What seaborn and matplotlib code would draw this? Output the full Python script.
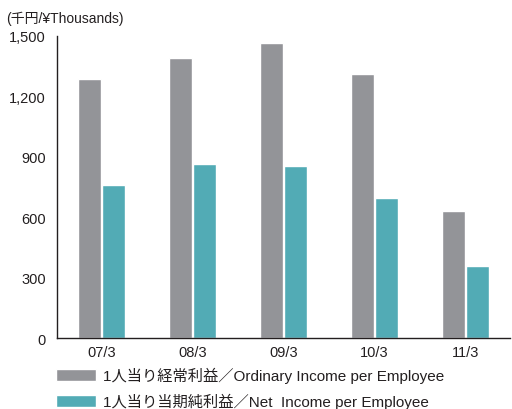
import pandas as pd
import matplotlib.pyplot as plt
import seaborn as sns

periods = ["07/3", "08/3", "09/3", "10/3", "11/3"]
ordinary_income = [1285, 1390, 1465, 1310, 630]
net_income = [760, 862, 853, 695, 358]
series_names = [
    "1人当り経常利益／Ordinary Income per Employee",
    "1人当り当期純利益／Net  Income per Employee",
]
y_ticks = [0, 300, 600, 900, 1200, 1500]

df = pd.DataFrame({
    "period": periods * 2,
    "value": ordinary_income + net_income,
    "series": [series_names[0]] * len(periods) + [series_names[1]] * len(periods),
})

sns.set_theme(style="white")
plt.rcParams["font.family"] = ["Liberation Sans", "Noto Sans CJK JP", "DejaVu Sans"]

fig = plt.figure(figsize=(5.12, 4.1), dpi=100)
ax = fig.add_axes([0.111, 0.173, 0.885, 0.737])

sns.barplot(
    data=df,
    x="period",
    y="value",
    hue="series",
    palette=["#939498", "#52abb5"],
    width=0.54,
    gap=0.06,
    saturation=1,
    ax=ax,
)

ax.set_xlim(-0.49, 4.49)
ax.set_ylim(0, 1500)
ax.set_yticks(y_ticks)
ax.set_yticklabels([f"{v:,}" for v in y_ticks])
ax.set_xlabel("")
ax.set_ylabel("")
ax.tick_params(axis="y", direction="in", length=7, width=1, color="#333333",
               labelsize=10.5, pad=8, colors="#231f20")
ax.tick_params(axis="x", length=0, labelsize=10.5, pad=5, colors="#231f20")
for side in ["top", "right"]:
    ax.spines[side].set_visible(False)
for side in ["left", "bottom"]:
    ax.spines[side].set_color("#231f20")
    ax.spines[side].set_linewidth(1)

fig.text(0.012, 0.955, "(千円/¥Thousands)", fontsize=10, color="#231f20",
         ha="left", va="center")

handles, labels = ax.get_legend_handles_labels()
leg = ax.legend(
    handles, labels,
    loc="upper left",
    bbox_to_anchor=(0.109, 0.102),
    bbox_transform=fig.transFigure,
    frameon=False,
    fontsize=11,
    handlelength=2.6,
    handleheight=0.9,
    handletextpad=0.5,
    labelspacing=0.62,
    borderpad=0,
    borderaxespad=0,
)
for t in leg.get_texts():
    t.set_color("#231f20")

fig.savefig("out.png", dpi=100)
plt.close(fig)
